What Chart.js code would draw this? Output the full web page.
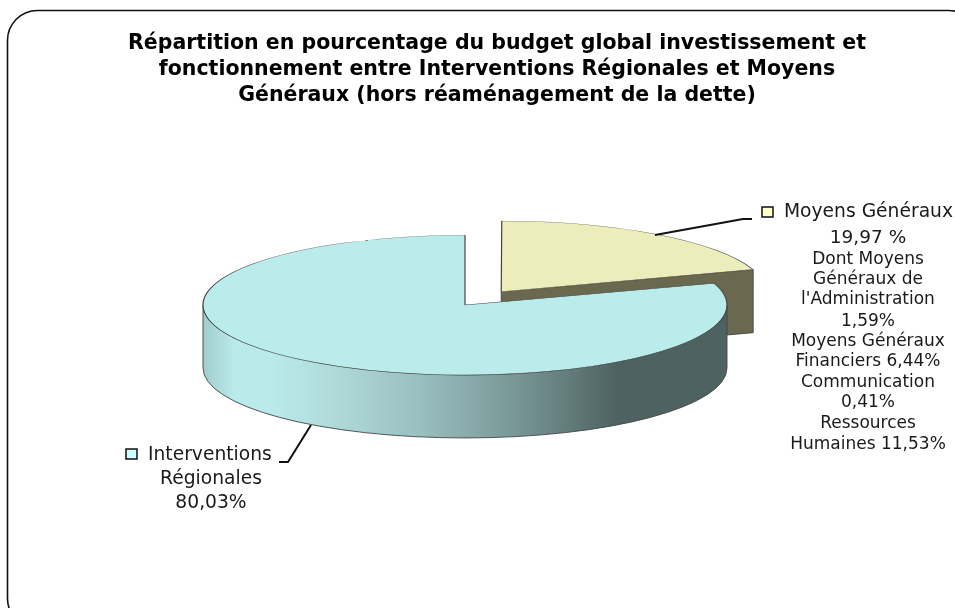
<!DOCTYPE html>
<html><head><meta charset="utf-8">
<style>html,body{margin:0;padding:0;background:#fff}#w{width:955px;height:608px}</style>
<script src="https://cdn.jsdelivr.net/npm/chart.js@4"></script>
</head><body><div id="w"><canvas id="c" width="955" height="608"></canvas></div>
<script>
const categories = ['Moyens Généraux', 'Interventions Régionales'];
const shares = [19.97, 80.03];
const titleLines = [
  'Répartition en pourcentage du budget global investissement et',
  'fonctionnement entre Interventions Régionales et Moyens',
  'Généraux (hors réaménagement de la dette)'
];
const rightLabelLines = ['Dont Moyens','Généraux de',"l'Administration",'1,59%','Moyens Généraux','Financiers 6,44%','Communication','0,41%','Ressources','Humaines 11,53%'];
const topColors = ['#EDEDBB', '#BAECEC'];
const keyColors = ['#FFFFCC', '#CCFFFF'];
const FONT = '"DejaVu Sans", Verdana, sans-serif';
const TILT = 0.267, DEPTH = 63, TEXT = '#1a1a1a';

function sideFill(ctx, index, left, right) {
  if (index === 0) return '#6A6950';
  const g = ctx.createLinearGradient(left, 0, right, 0);
  [[0,'#A0CCCC'],[0.06,'#BAEAEA'],[0.13,'#BAEAEA'],[0.25,'#B0DADA'],[0.41,'#9AC0C0'],[0.6,'#789696'],[0.79,'#4E6262'],[1,'#4E6262']]
    .forEach(s => g.addColorStop(s[0], s[1]));
  return g;
}

const pie3d = {
  id: 'pie3d',
  afterLayout(chart) {
    chart.titleBlock.left += 32;
    chart.titleBlock.right += 32;
  },
  beforeDatasetsDraw(chart) {
    const ctx = chart.ctx, arcs = chart.getDatasetMeta(0).data;
    arcs.forEach((a, i) => {
      const off = (a.options.offset || 0) / 4;
      const mid = (a.startAngle + a.endAngle) / 2;
      const circ = a.endAngle - a.startAngle;
      const R = a.outerRadius + off * (1 - Math.sin(Math.min(Math.PI, circ)));
      const cx = a.x + Math.cos(mid) * off;
      const cy = a.y + Math.sin(mid) * off * TILT;
      const ry = R * TILT;
      ctx.save();
      ctx.fillStyle = sideFill(ctx, i, cx - R, cx + R);
      ctx.strokeStyle = '#444';
      ctx.lineWidth = 0.9;
      const s = Math.max(a.startAngle, 0), e = Math.min(a.endAngle, Math.PI);
      if (e > s) {
        ctx.beginPath();
        ctx.ellipse(cx, cy, R, ry, 0, s, e);
        ctx.ellipse(cx, cy + DEPTH, R, ry, 0, e, s, true);
        ctx.closePath();
        ctx.fill(); ctx.stroke();
      }
      [a.startAngle, a.endAngle].forEach((t, k) => {
        const visible = k === 1 ? Math.cos(t) > 1e-6 : Math.cos(t) < -1e-6;
        if (!visible) return;
        const x = cx + R * Math.cos(t), y = cy + ry * Math.sin(t);
        ctx.beginPath();
        ctx.moveTo(cx, cy); ctx.lineTo(x, y);
        ctx.lineTo(x, y + DEPTH); ctx.lineTo(cx, cy + DEPTH);
        ctx.closePath();
        ctx.fill(); ctx.stroke();
      });
      ctx.restore();
    });
    const c = arcs[0];
    ctx.save();
    ctx.translate(c.x, c.y); ctx.scale(1, TILT); ctx.translate(-c.x, -c.y);
  },
  afterDatasetsDraw(chart) { chart.ctx.restore(); }
};

const frame = {
  id: 'frame',
  beforeDraw(chart) {
    const ctx = chart.ctx;
    ctx.save();
    ctx.strokeStyle = '#111'; ctx.lineWidth = 1.6;
    ctx.beginPath(); ctx.roundRect(7.5, 10.5, 971, 618, 30); ctx.stroke();
    ctx.restore();
  }
};

function key(ctx, x, y, color) {
  ctx.fillStyle = color; ctx.strokeStyle = '#111'; ctx.lineWidth = 1.5;
  ctx.fillRect(x, y, 11, 10); ctx.strokeRect(x, y, 11, 10);
}
function lead(ctx, pts) {
  ctx.strokeStyle = '#111'; ctx.lineWidth = 2;
  ctx.beginPath(); pts.forEach((p, i) => i ? ctx.lineTo(p[0], p[1]) : ctx.moveTo(p[0], p[1])); ctx.stroke();
}
const labels = {
  id: 'labels',
  afterDraw(chart) {
    const ctx = chart.ctx;
    ctx.save();
    lead(ctx, [[655,235],[743,219],[752,219]]);
    lead(ctx, [[311,425],[288,462],[279,462]]);
    key(ctx, 762, 207, keyColors[0]);
    key(ctx, 126, 449, keyColors[1]);
    ctx.fillStyle = TEXT; ctx.textBaseline = 'middle';
    ctx.textAlign = 'left';
    ctx.font = '18.7px ' + FONT;
    ctx.fillText(categories[0], 784, 212);
    ctx.textAlign = 'center';
    ctx.font = '18.5px ' + FONT;
    ctx.fillText(String(shares[0]).replace('.', ',') + ' %', 868, 238);
    ctx.font = '17px ' + FONT;
    const ys = [260,280,300,322,342,362,383,403,424,445];
    rightLabelLines.forEach((t, i) => ctx.fillText(t, 868, ys[i]));
    ctx.font = '18.7px ' + FONT;
    const words = categories[1].split(' ');
    ctx.textAlign = 'left';
    ctx.fillText(words[0], 148, 455);
    ctx.textAlign = 'center';
    ctx.fillText(words[1], 211, 479);
    ctx.fillText(String(shares[1]).replace('.', ',') + '%', 211, 503);
    ctx.restore();
  }
};

new Chart(document.getElementById('c'), {
  type: 'pie',
  data: { labels: categories, datasets: [{
    data: shares,
    backgroundColor: topColors,
    borderColor: '#444',
    borderWidth: 1.2,
    offset: [247, 0],
    radius: 262,
    clip: false
  }]},
  options: {
    responsive: false,
    animation: false,
    events: [],
    layout: { padding: { right: 25, bottom: 115 } },
    plugins: {
      legend: { display: false },
      tooltip: { enabled: false },
      title: {
        display: true,
        text: titleLines,
        color: '#000',
        font: { family: FONT, size: 20.5, weight: 'bold', lineHeight: 1.268 },
        padding: { top: 31, bottom: 8 }
      }
    }
  },
  plugins: [frame, pie3d, labels]
});
</script></body></html>
